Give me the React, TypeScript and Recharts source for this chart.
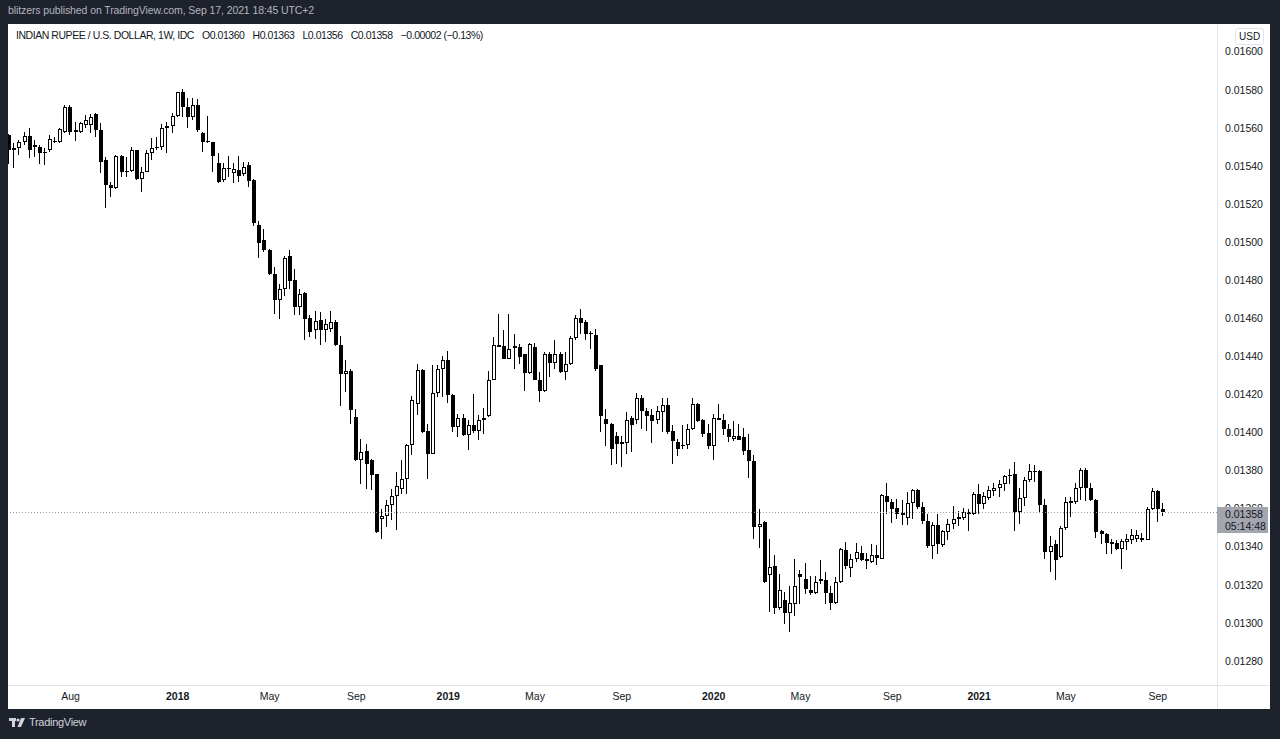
import { ComposedChart, Bar, XAxis, YAxis, ReferenceLine } from 'recharts';

// weekly bars, Monday of the first bar
const firstWeek = Date.UTC(2017, 4, 15);
const DAY = 86400000;

// [open, high, low, close]
const wk2017: number[][] = [
  [0.015562, 0.015570, 0.015410, 0.015483],
  [0.015483, 0.015518, 0.015387, 0.015496],
  [0.015492, 0.015536, 0.015457, 0.015524],
  [0.015524, 0.015580, 0.015510, 0.015559],
  [0.015559, 0.015601, 0.015440, 0.015483],
  [0.015510, 0.015536, 0.015448, 0.015499],
  [0.015501, 0.015510, 0.015408, 0.015469],
  [0.015469, 0.015492, 0.015405, 0.015472],
  [0.015483, 0.015562, 0.015475, 0.015541],
  [0.015524, 0.015553, 0.015518, 0.015529],
  [0.015524, 0.015601, 0.015518, 0.015594],
  [0.015580, 0.015720, 0.015571, 0.015711],
  [0.015711, 0.015720, 0.015562, 0.015580],
  [0.015580, 0.015632, 0.015531, 0.015588],
  [0.015580, 0.015632, 0.015575, 0.015624],
  [0.015615, 0.015667, 0.015597, 0.015641],
  [0.015615, 0.015671, 0.015571, 0.015655],
  [0.015671, 0.015676, 0.015553, 0.015588],
  [0.015591, 0.015624, 0.015361, 0.015422],
  [0.015431, 0.015448, 0.015177, 0.015300],
  [0.015300, 0.015317, 0.015238, 0.015282],
  [0.015282, 0.015455, 0.015278, 0.015452],
  [0.015452, 0.015456, 0.015343, 0.015370],
  [0.015370, 0.015448, 0.015343, 0.015373],
  [0.015373, 0.015501, 0.015366, 0.015483],
  [0.015483, 0.015486, 0.015328, 0.015331],
  [0.015331, 0.015396, 0.015261, 0.015370],
  [0.015370, 0.015483, 0.015366, 0.015469],
  [0.015469, 0.015548, 0.015431, 0.015492],
  [0.015492, 0.015553, 0.015483, 0.015501],
  [0.015501, 0.015618, 0.015483, 0.015601],
  [0.015597, 0.015629, 0.015466, 0.015611],
  [0.015611, 0.015676, 0.015571, 0.015662],
];

const wk2018: number[][] = [
  [0.015662, 0.015790, 0.015659, 0.015786],
  [0.015786, 0.015804, 0.015659, 0.015711],
  [0.015711, 0.015755, 0.015597, 0.015659],
  [0.015659, 0.015755, 0.015641, 0.015720],
  [0.015720, 0.015751, 0.015580, 0.015588],
  [0.015571, 0.015580, 0.015475, 0.015524],
  [0.015531, 0.015662, 0.015518, 0.015524],
  [0.015524, 0.015528, 0.015370, 0.015452],
  [0.015413, 0.015466, 0.015308, 0.015317],
  [0.015326, 0.015413, 0.015317, 0.015387],
  [0.015391, 0.015452, 0.015343, 0.015384],
  [0.015361, 0.015413, 0.015308, 0.015382],
  [0.015381, 0.015451, 0.015317, 0.015346],
  [0.015357, 0.015422, 0.015346, 0.015392],
  [0.015404, 0.015422, 0.015290, 0.015322],
  [0.015325, 0.015329, 0.015084, 0.015098],
  [0.015089, 0.015112, 0.014919, 0.014996],
  [0.015010, 0.015071, 0.014949, 0.014958],
  [0.014961, 0.014966, 0.014825, 0.014830],
  [0.014830, 0.014870, 0.014625, 0.014698],
  [0.014698, 0.014782, 0.014598, 0.014756],
  [0.014756, 0.014926, 0.014716, 0.014919],
  [0.014928, 0.014961, 0.014756, 0.014796],
  [0.014800, 0.014861, 0.014616, 0.014660],
  [0.014660, 0.014756, 0.014616, 0.014730],
  [0.014733, 0.014738, 0.014488, 0.014598],
  [0.014602, 0.014616, 0.014502, 0.014528],
  [0.014537, 0.014639, 0.014493, 0.014586],
  [0.014589, 0.014633, 0.014458, 0.014537],
  [0.014537, 0.014598, 0.014476, 0.014572],
  [0.014546, 0.014639, 0.014528, 0.014581],
  [0.014581, 0.014590, 0.014455, 0.014458],
  [0.014458, 0.014505, 0.014138, 0.014309],
  [0.014309, 0.014379, 0.014213, 0.014321],
  [0.014321, 0.014335, 0.014046, 0.014116],
  [0.014081, 0.014125, 0.013850, 0.013857],
  [0.013857, 0.013968, 0.013728, 0.013898],
  [0.013901, 0.013941, 0.013705, 0.013836],
  [0.013854, 0.013863, 0.013700, 0.013775],
  [0.013780, 0.013784, 0.013470, 0.013477],
  [0.013545, 0.013600, 0.013442, 0.013559],
  [0.013559, 0.013647, 0.013503, 0.013617],
  [0.013617, 0.013705, 0.013538, 0.013664],
  [0.013664, 0.013792, 0.013486, 0.013717],
  [0.013705, 0.013857, 0.013678, 0.013757],
  [0.013757, 0.013941, 0.013678, 0.013933],
  [0.013933, 0.014190, 0.013880, 0.014169],
  [0.014148, 0.014362, 0.014090, 0.014330],
  [0.014330, 0.014335, 0.013997, 0.014003],
  [0.014008, 0.014046, 0.013757, 0.013889],
  [0.013889, 0.014353, 0.013886, 0.014208],
  [0.014208, 0.014353, 0.014187, 0.014331],
  [0.014331, 0.014401, 0.014187, 0.014380],
];

const wk2019: number[][] = [
  [0.014380, 0.014429, 0.014155, 0.014199],
  [0.014199, 0.014202, 0.014003, 0.014029],
  [0.014029, 0.014099, 0.013977, 0.014078],
  [0.014078, 0.014099, 0.013980, 0.013985],
  [0.013989, 0.014068, 0.013907, 0.014038],
  [0.014038, 0.014201, 0.013998, 0.014006],
  [0.014006, 0.014091, 0.013963, 0.014068],
  [0.014068, 0.014131, 0.013994, 0.014078],
  [0.014085, 0.014324, 0.014082, 0.014278],
  [0.014278, 0.014502, 0.014274, 0.014458],
  [0.014462, 0.014621, 0.014448, 0.014450],
  [0.014453, 0.014541, 0.014385, 0.014388],
  [0.014388, 0.014621, 0.014385, 0.014441],
  [0.014453, 0.014520, 0.014336, 0.014446],
  [0.014450, 0.014467, 0.014359, 0.014397],
  [0.014410, 0.014415, 0.014218, 0.014310],
  [0.014310, 0.014471, 0.014306, 0.014467],
  [0.014450, 0.014471, 0.014275, 0.014278],
  [0.014278, 0.014318, 0.014161, 0.014218],
  [0.014218, 0.014423, 0.014213, 0.014411],
  [0.014411, 0.014423, 0.014289, 0.014366],
  [0.014366, 0.014485, 0.014336, 0.014411],
  [0.014411, 0.014423, 0.014313, 0.014318],
  [0.014318, 0.014423, 0.014278, 0.014362],
  [0.014359, 0.014506, 0.014353, 0.014499],
  [0.014499, 0.014616, 0.014488, 0.014604],
  [0.014604, 0.014651, 0.014520, 0.014576],
  [0.014581, 0.014590, 0.014488, 0.014520],
  [0.014525, 0.014534, 0.014441, 0.014520],
  [0.014511, 0.014546, 0.014324, 0.014336],
  [0.014353, 0.014356, 0.014003, 0.014085],
  [0.014073, 0.014126, 0.013928, 0.014047],
  [0.014047, 0.014050, 0.013828, 0.013915],
  [0.013980, 0.014003, 0.013837, 0.013938],
  [0.013938, 0.013980, 0.013819, 0.013950],
  [0.013945, 0.014108, 0.013889, 0.014068],
  [0.014078, 0.014085, 0.013898, 0.014038],
  [0.014064, 0.014208, 0.014047, 0.014183],
  [0.014183, 0.014196, 0.014021, 0.014113],
  [0.014113, 0.014131, 0.014008, 0.014085],
  [0.014091, 0.014126, 0.013945, 0.014061],
  [0.014068, 0.014138, 0.014043, 0.014113],
  [0.014108, 0.014183, 0.014003, 0.014143],
  [0.014143, 0.014183, 0.013994, 0.014003],
  [0.014008, 0.014038, 0.013837, 0.013956],
  [0.013950, 0.013968, 0.013875, 0.013915],
  [0.013933, 0.014038, 0.013915, 0.013928],
  [0.013933, 0.014043, 0.013915, 0.014021],
  [0.014021, 0.014183, 0.014015, 0.014152],
  [0.014152, 0.014155, 0.014056, 0.014061],
  [0.014068, 0.014070, 0.013977, 0.013994],
  [0.013998, 0.014047, 0.013915, 0.013928],
];

const wk2020: number[][] = [
  [0.013928, 0.014096, 0.013858, 0.014078],
  [0.014078, 0.014152, 0.014065, 0.014068],
  [0.014068, 0.014099, 0.013985, 0.014021],
  [0.014021, 0.014047, 0.013950, 0.013977],
  [0.013968, 0.014061, 0.013956, 0.013980],
  [0.013980, 0.014047, 0.013959, 0.013963],
  [0.013977, 0.014026, 0.013880, 0.013903],
  [0.013907, 0.013991, 0.013763, 0.013851],
  [0.013851, 0.013880, 0.013442, 0.013504],
  [0.013504, 0.013600, 0.013395, 0.013518],
  [0.013530, 0.013535, 0.013210, 0.013215],
  [0.013250, 0.013442, 0.013057, 0.013293],
  [0.013297, 0.013355, 0.013045, 0.013080],
  [0.013080, 0.013258, 0.013069, 0.013171],
  [0.013122, 0.013162, 0.012996, 0.013052],
  [0.013052, 0.013192, 0.012952, 0.013104],
  [0.013101, 0.013337, 0.013039, 0.013192],
  [0.013258, 0.013276, 0.013101, 0.013241],
  [0.013232, 0.013314, 0.013153, 0.013180],
  [0.013171, 0.013249, 0.013145, 0.013157],
  [0.013157, 0.013249, 0.013150, 0.013215],
  [0.013232, 0.013328, 0.013206, 0.013220],
  [0.013227, 0.013267, 0.013101, 0.013157],
  [0.013157, 0.013192, 0.013069, 0.013104],
  [0.013104, 0.013241, 0.013101, 0.013215],
  [0.013215, 0.013395, 0.013209, 0.013390],
  [0.013385, 0.013425, 0.013285, 0.013297],
  [0.013290, 0.013364, 0.013241, 0.013337],
  [0.013337, 0.013419, 0.013320, 0.013372],
  [0.013367, 0.013402, 0.013325, 0.013332],
  [0.013337, 0.013367, 0.013285, 0.013325],
  [0.013320, 0.013413, 0.013314, 0.013355],
  [0.013355, 0.013407, 0.013302, 0.013343],
  [0.013337, 0.013675, 0.013334, 0.013670],
  [0.013665, 0.013735, 0.013570, 0.013635],
  [0.013635, 0.013653, 0.013525, 0.013600],
  [0.013605, 0.013653, 0.013547, 0.013574],
  [0.013577, 0.013644, 0.013512, 0.013565],
  [0.013553, 0.013688, 0.013512, 0.013630],
  [0.013630, 0.013703, 0.013547, 0.013700],
  [0.013700, 0.013703, 0.013600, 0.013609],
  [0.013609, 0.013635, 0.013521, 0.013535],
  [0.013535, 0.013574, 0.013395, 0.013405],
  [0.013402, 0.013530, 0.013338, 0.013513],
  [0.013513, 0.013574, 0.013360, 0.013413],
  [0.013408, 0.013490, 0.013399, 0.013483],
  [0.013478, 0.013548, 0.013434, 0.013518],
  [0.013518, 0.013613, 0.013495, 0.013548],
  [0.013548, 0.013588, 0.013508, 0.013557],
  [0.013553, 0.013606, 0.013539, 0.013583],
  [0.013583, 0.013600, 0.013483, 0.013571],
  [0.013571, 0.013688, 0.013568, 0.013679],
];

const wk2021: number[][] = [
  [0.013679, 0.013732, 0.013574, 0.013623],
  [0.013627, 0.013688, 0.013600, 0.013665],
  [0.013658, 0.013718, 0.013644, 0.013697],
  [0.013693, 0.013735, 0.013665, 0.013709],
  [0.013711, 0.013749, 0.013662, 0.013728],
  [0.013732, 0.013776, 0.013693, 0.013770],
  [0.013770, 0.013811, 0.013732, 0.013776],
  [0.013781, 0.013846, 0.013483, 0.013583],
  [0.013583, 0.013706, 0.013518, 0.013658],
  [0.013658, 0.013767, 0.013613, 0.013753],
  [0.013749, 0.013833, 0.013741, 0.013798],
  [0.013793, 0.013828, 0.013741, 0.013798],
  [0.013798, 0.013801, 0.013578, 0.013618],
  [0.013618, 0.013653, 0.013338, 0.013373],
  [0.013373, 0.013455, 0.013268, 0.013402],
  [0.013416, 0.013437, 0.013227, 0.013332],
  [0.013346, 0.013508, 0.013343, 0.013501],
  [0.013501, 0.013662, 0.013487, 0.013635],
  [0.013641, 0.013662, 0.013557, 0.013630],
  [0.013635, 0.013735, 0.013623, 0.013706],
  [0.013706, 0.013816, 0.013648, 0.013805],
  [0.013805, 0.013816, 0.013641, 0.013711],
  [0.013711, 0.013735, 0.013641, 0.013648],
  [0.013648, 0.013650, 0.013448, 0.013478],
  [0.013483, 0.013490, 0.013416, 0.013465],
  [0.013465, 0.013472, 0.013360, 0.013420],
  [0.013413, 0.013443, 0.013360, 0.013425],
  [0.013420, 0.013434, 0.013385, 0.013390],
  [0.013390, 0.013443, 0.013285, 0.013431],
  [0.013425, 0.013469, 0.013381, 0.013443],
  [0.013437, 0.013495, 0.013416, 0.013460],
  [0.013443, 0.013486, 0.013425, 0.013460],
  [0.013448, 0.013472, 0.013425, 0.013437],
  [0.013437, 0.013609, 0.013434, 0.013600],
  [0.013600, 0.013711, 0.013595, 0.013693],
  [0.013693, 0.013700, 0.013530, 0.013600],
  [0.013600, 0.013630, 0.013560, 0.013580],
];

const lastPrice = 0.01358;
const priceTicks = [
  0.0128, 0.013, 0.0132, 0.0134, 0.0136, 0.0138, 0.014, 0.0142, 0.0144,
  0.0146, 0.0148, 0.015, 0.0152, 0.0154, 0.0156, 0.0158, 0.016,
];
const tickMonths = [
  '2017-08', '2018-01', '2018-05', '2018-09', '2019-01', '2019-05', '2019-09',
  '2020-01', '2020-05', '2020-09', '2021-01', '2021-05', '2021-09',
];
const monthNames = ['Jan', 'Feb', 'Mar', 'Apr', 'May', 'Jun', 'Jul', 'Aug', 'Sep', 'Oct', 'Nov', 'Dec'];

const rows = [...wk2017, ...wk2018, ...wk2019, ...wk2020, ...wk2021].map(([o, h, l, c], i) => {
  const d = new Date(firstWeek + i * 7 * DAY);
  const month = `${d.getUTCFullYear()}-${String(d.getUTCMonth() + 1).padStart(2, '0')}`;
  return { i, month, o, h, l, c, range: [l, h] };
});

const tickIdx = tickMonths.map((m) => rows.find((r) => r.month === m)!.i);
const labelFor = (i: number) => {
  const [y, m] = rows[i].month.split('-').map(Number);
  return m === 1 ? String(y) : monthNames[m - 1];
};

const FONT = "'Liberation Sans', Arial, sans-serif";
const INK = '#131722';
const LINE = '#e0e3eb';

const Candle = (props: any) => {
  const { x, y, width, height, payload } = props;
  if (x == null || y == null || !payload) return null;
  const { o, h, l, c } = payload;
  const top = Math.min(y, y + height);
  const span = Math.abs(height);
  const k = h > l ? span / (h - l) : 0;
  const yOf = (v: number) => top + (h - v) * k;
  const cx = Math.round(x + width / 2);
  const bTop = Math.round(yOf(Math.max(o, c)));
  const bBot = Math.max(bTop + 1, Math.round(yOf(Math.min(o, c))));
  const up = c >= o;
  return (
    <g>
      <line x1={cx - 0.5} x2={cx - 0.5} y1={Math.round(top)} y2={Math.round(top + span)} stroke="#000" strokeWidth={1} />
      {up && bBot - bTop > 2 ? (
        <rect x={cx - 1.5} y={bTop + 0.5} width={3} height={bBot - bTop - 1} fill="#fff" stroke="#000" strokeWidth={1} />
      ) : (
        <rect x={cx - 2} y={bTop} width={4} height={bBot - bTop} fill="#000" />
      )}
    </g>
  );
};

const TimeTick = (props: any) => {
  const { x, y, payload } = props;
  const label = labelFor(payload.value);
  const isYear = /^\d{4}$/.test(label);
  return (
    <text x={x} y={y} dy="0.71em" textAnchor="middle" fontSize={10.5} fontWeight={isYear ? 700 : 400} fill={INK}>
      {label}
    </text>
  );
};

export default function App() {
  return (
    <div style={{ position: 'fixed', left: 0, top: 0, width: 1280, height: 739, background: '#1e222d', fontFamily: FONT, overflow: 'hidden' }}>
      <div style={{ position: 'absolute', left: 8, top: 4, fontSize: 10.5, letterSpacing: -0.1, color: '#b2b5be', whiteSpace: 'nowrap' }}>
        blitzers published on TradingView.com, Sep 17, 2021 18:45 UTC+2
      </div>

      <div style={{ position: 'absolute', left: 8, top: 24, width: 1262, height: 685, background: '#fff', overflow: 'hidden' }}>
        <ComposedChart width={1262} height={685} data={rows} margin={{ top: 0, right: 0, left: 0, bottom: 0 }}>
          <XAxis
            type="number"
            dataKey="i"
            domain={[-0.25, rows.length - 1 + 10.6]}
            allowDataOverflow
            ticks={tickIdx}
            interval={0}
            height={24}
            axisLine={false}
            tickLine={false}
            tick={<TimeTick />}
          />
          <YAxis
            orientation="right"
            type="number"
            domain={[0.012674, 0.0161455]}
            allowDataOverflow
            ticks={priceTicks}
            interval={0}
            width={53}
            axisLine={false}
            tickLine={false}
            tickFormatter={(v: number) => v.toFixed(5)}
            tick={{ fontSize: 10.5, fill: INK }}
          />
          <ReferenceLine y={lastPrice} stroke="#9598a1" strokeDasharray="1 2" />
          <Bar dataKey="range" shape={(p: any) => <Candle {...p} />} isAnimationActive={false} />
        </ComposedChart>

        <div style={{ position: 'absolute', left: 8, top: 5, fontSize: 10.5, letterSpacing: -0.45, color: INK, whiteSpace: 'nowrap', display: 'flex', gap: 8 }}>
          <span>INDIAN RUPEE / U.S. DOLLAR, 1W, IDC</span>
          <span>O0.01360</span>
          <span>H0.01363</span>
          <span>L0.01356</span>
          <span>C0.01358</span>
          <span>−0.00002 (−0.13%)</span>
        </div>

        <div style={{ position: 'absolute', left: 1209, top: 0, width: 1, height: 685, background: LINE }} />
        <div style={{ position: 'absolute', left: 0, top: 661, width: 1262, height: 1, background: LINE }} />

        <div style={{ position: 'absolute', left: 1227, top: 4, padding: '0 3px', height: 15, lineHeight: '15px', border: `1px solid ${LINE}`, borderRadius: 3, fontSize: 10, color: INK, background: '#fff' }}>
          USD
        </div>

        <div style={{ position: 'absolute', left: 1209, top: 483, width: 51, height: 26, background: '#a3a6af', fontSize: 10.5, color: INK, lineHeight: '12px', paddingTop: 1, boxSizing: 'border-box' }}>
          <div style={{ paddingLeft: 8 }}>{lastPrice.toFixed(5)}</div>
          <div style={{ paddingLeft: 8 }}>05:14:48</div>
        </div>
      </div>

      <div style={{ position: 'absolute', left: 9, top: 716, display: 'flex', alignItems: 'center', gap: 4, color: '#d1d4dc', fontSize: 11, letterSpacing: -0.3 }}>
        <svg width={16} height={12} viewBox="0 0 16 12">
          <rect x={0} y={2} width={7} height={3} fill="#d1d4dc" />
          <rect x={3} y={2} width={3} height={9} fill="#d1d4dc" />
          <circle cx={9} cy={4} r={1.6} fill="#d1d4dc" />
          <polygon points="12,2 16,2 12,11 8.5,11" fill="#d1d4dc" />
        </svg>
        <span>TradingView</span>
      </div>
    </div>
  );
}
